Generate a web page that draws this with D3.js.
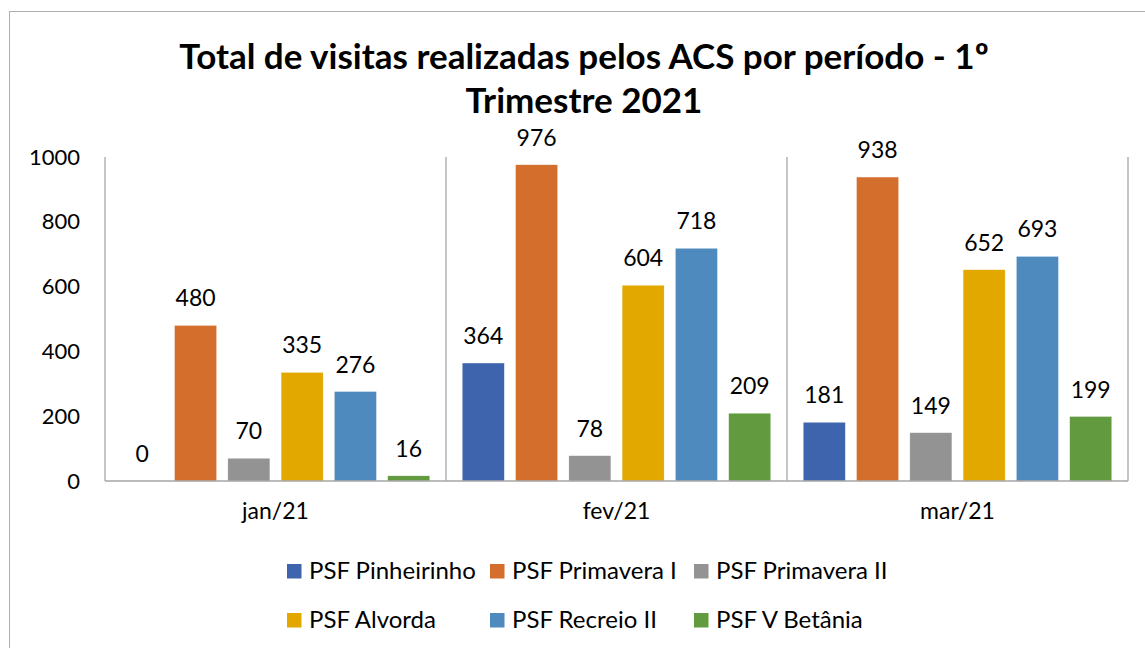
<!DOCTYPE html>
<html>
<head>
<meta charset="utf-8">
<script src="https://cdn.jsdelivr.net/npm/d3@7"></script>
<style>
  body { margin: 0; background: #fff; }
  svg text { font-family: Lato, "Open Sans", sans-serif; fill: #000; }
</style>
</head>
<body>
<svg></svg>
<script>
// data
var months = ["jan/21", "fev/21", "mar/21"];
var series = ["PSF Pinheirinho", "PSF Primavera I", "PSF Primavera II",
              "PSF Alvorda", "PSF Recreio II", "PSF V Betânia"];
var pinheirinho = [0, 364, 181];
var primaveraI  = [480, 976, 938];
var primaveraII = [70, 78, 149];
var alvorda     = [335, 604, 652];
var recreioII   = [276, 718, 693];
var vBetania    = [16, 209, 199];
var colors = ["#3d64ad", "#d36e2c", "#939393", "#e2a800", "#4f8abe", "#629b3f"];
var yTicks = [0, 200, 400, 600, 800, 1000];

var values = [pinheirinho, primaveraI, primaveraII, alvorda, recreioII, vBetania];

var width = 1145, height = 648;
var svg = d3.select("svg").attr("width", width).attr("height", height);

// outer frame
svg.append("rect")
  .attr("x", 9.5).attr("y", 11.5)
  .attr("width", 1200).attr("height", 700)
  .attr("fill", "#fff").attr("stroke", "#b0b0b0").attr("stroke-width", 1);

var title = svg.append("text")
  .attr("text-anchor", "middle")
  .style("font-weight", "bold")
  .style("font-size", "35px");
title.append("tspan").attr("x", 584).attr("y", 69)
  .text("Total de visitas realizadas pelos ACS por período - 1º");
title.append("tspan").attr("x", 584).attr("y", 113)
  .text("Trimestre 2021");

var y = d3.scaleLinear().domain([0, 1000]).range([481, 157]);
var x0 = d3.scaleBand().domain(months).range([105, 1128]);
var x1 = d3.scaleBand().domain(series).range([16.3, x0.bandwidth() - 16.3]).paddingInner(0.212);
var color = d3.scaleOrdinal().domain(series).range(colors);

var rows = [];
months.forEach((m, i) => {
  series.forEach((s, j) => rows.push({month: m, name: s, value: values[j][i]}));
});

// y axis labels
var yAxis = svg.append("g")
  .attr("transform", "translate(105,0)")
  .call(d3.axisLeft(y).tickValues(yTicks).tickFormat(d3.format("d")).tickSize(0).tickPadding(25));
yAxis.select(".domain").remove();
yAxis.selectAll("text").style("font-size", "22px").style("font-family", "Lato");

// category labels
var xAxis = svg.append("g")
  .attr("transform", "translate(0,481)")
  .call(d3.axisBottom(x0).tickSize(0).tickPadding(22));
xAxis.select(".domain").remove();
xAxis.selectAll("text").style("font-size", "23px").style("font-family", "Lato");

// bars
svg.append("g").selectAll("rect")
  .data(rows)
  .enter().append("rect")
    .attr("x", d => x0(d.month) + x1(d.name))
    .attr("y", d => y(d.value))
    .attr("width", x1.bandwidth())
    .attr("height", d => y(0) - y(d.value))
    .attr("fill", d => color(d.name))
    .attr("stroke", "#fff").attr("stroke-opacity", 0.5).attr("stroke-width", 0.5);

// value labels
svg.append("g").selectAll("text")
  .data(rows)
  .enter().append("text")
    .attr("x", d => x0(d.month) + x1(d.name) + x1.bandwidth() / 2)
    .attr("y", d => y(d.value) - 19)
    .attr("text-anchor", "middle")
    .style("font-size", "23px")
    .text(d => d.value);

// axis lines and category separators
var axisColor = "#a6a6a6";
svg.append("line")
  .attr("x1", 105).attr("x2", 105).attr("y1", y(1000)).attr("y2", y(0))
  .attr("stroke", axisColor).attr("stroke-width", 1.3);
svg.append("line")
  .attr("x1", 105).attr("x2", 1128).attr("y1", y(0)).attr("y2", y(0))
  .attr("stroke", axisColor).attr("stroke-width", 1.3);
svg.append("g").selectAll("line")
  .data(months)
  .enter().append("line")
    .attr("x1", d => x0(d) + x0.bandwidth()).attr("x2", d => x0(d) + x0.bandwidth())
    .attr("y1", y(1000)).attr("y2", y(0))
    .attr("stroke", axisColor).attr("stroke-width", 1.3);

// legend
var legendX = [287, 490, 694];
var legendY = [564, 613];
var legend = svg.append("g").selectAll("g")
  .data(series)
  .enter().append("g")
    .attr("transform", (d, i) => `translate(${legendX[i % 3]},${legendY[Math.floor(i / 3)]})`);
legend.append("rect")
  .attr("width", 14.5).attr("height", 14.5)
  .attr("fill", d => color(d));
legend.append("text")
  .attr("x", 22).attr("y", 15)
  .style("font-size", "24px")
  .text(d => d);
</script>
</body>
</html>
